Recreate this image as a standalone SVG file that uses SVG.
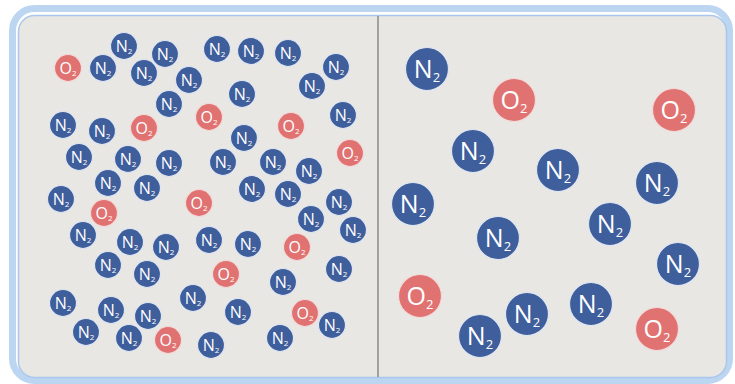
<svg xmlns="http://www.w3.org/2000/svg" width="735" height="384" viewBox="0 0 735 384">
<style>
.n circle{fill:#3f5e9c;stroke:#dfe6f2;stroke-width:1.2}
.o circle{fill:#e07272;stroke:#f3dada;stroke-width:1.2}
.s text{font-family:"Open Sans","Liberation Sans",sans-serif;fill:#fff;font-size:16px;text-anchor:middle}
.s tspan{font-size:8px}
.b text{font-family:"Open Sans","Liberation Sans",sans-serif;fill:#fff;font-size:25px;text-anchor:middle}
.b tspan{font-size:13px}
</style>
<rect x="0" y="0" width="735" height="384" fill="#ffffff"/>
<rect x="12.5" y="8.5" width="717" height="372" rx="22" fill="#ffffff" stroke="#bcd5f1" stroke-width="7"/>
<rect x="18.5" y="15.5" width="708" height="362" rx="16" fill="#e8e7e3" stroke="#a9c7ec" stroke-width="1.5"/>
<line x1="378" y1="16" x2="378" y2="377" stroke="#8a8a8a" stroke-width="1.5"/>
<g id="connectors"/>
<g id="left" class="s">
<g id="l1" class="n"><circle cx="124" cy="46" r="13.5"/><text x="124" y="52">N<tspan dy="2">2</tspan></text></g>
<g id="l2" class="n"><circle cx="165" cy="54" r="13.5"/><text x="165" y="60">N<tspan dy="2">2</tspan></text></g>
<g id="l3" class="n"><circle cx="217" cy="49" r="13.5"/><text x="217" y="55">N<tspan dy="2">2</tspan></text></g>
<g id="l4" class="n"><circle cx="251" cy="51" r="13.5"/><text x="251" y="57">N<tspan dy="2">2</tspan></text></g>
<g id="l5" class="n"><circle cx="288" cy="53" r="13.5"/><text x="288" y="59">N<tspan dy="2">2</tspan></text></g>
<g id="l6" class="n"><circle cx="336" cy="67" r="13.5"/><text x="336" y="73">N<tspan dy="2">2</tspan></text></g>
<g id="l7" class="o"><circle cx="68" cy="68" r="13.5"/><text x="68" y="74">O<tspan dy="2">2</tspan></text></g>
<g id="l8" class="n"><circle cx="103" cy="68" r="13.5"/><text x="103" y="74">N<tspan dy="2">2</tspan></text></g>
<g id="l9" class="n"><circle cx="144" cy="73" r="13.5"/><text x="144" y="79">N<tspan dy="2">2</tspan></text></g>
<g id="l10" class="n"><circle cx="189" cy="80" r="13.5"/><text x="189" y="86">N<tspan dy="2">2</tspan></text></g>
<g id="l11" class="n"><circle cx="312" cy="86" r="13.5"/><text x="312" y="92">N<tspan dy="2">2</tspan></text></g>
<g id="l12" class="n"><circle cx="169" cy="104" r="13.5"/><text x="169" y="110">N<tspan dy="2">2</tspan></text></g>
<g id="l13" class="n"><circle cx="242" cy="94" r="13.5"/><text x="242" y="100">N<tspan dy="2">2</tspan></text></g>
<g id="l14" class="o"><circle cx="209" cy="117" r="13.5"/><text x="209" y="123">O<tspan dy="2">2</tspan></text></g>
<g id="l15" class="o"><circle cx="291" cy="126" r="13.5"/><text x="291" y="132">O<tspan dy="2">2</tspan></text></g>
<g id="l16" class="n"><circle cx="343" cy="115" r="13.5"/><text x="343" y="121">N<tspan dy="2">2</tspan></text></g>
<g id="l17" class="n"><circle cx="63" cy="125" r="13.5"/><text x="63" y="131">N<tspan dy="2">2</tspan></text></g>
<g id="l18" class="n"><circle cx="102" cy="131" r="13.5"/><text x="102" y="137">N<tspan dy="2">2</tspan></text></g>
<g id="l19" class="o"><circle cx="144" cy="128" r="13.5"/><text x="144" y="134">O<tspan dy="2">2</tspan></text></g>
<g id="l20" class="n"><circle cx="244" cy="138" r="13.5"/><text x="244" y="144">N<tspan dy="2">2</tspan></text></g>
<g id="l21" class="o"><circle cx="350" cy="153" r="13.5"/><text x="350" y="159">O<tspan dy="2">2</tspan></text></g>
<g id="l22" class="n"><circle cx="79" cy="157" r="13.5"/><text x="79" y="163">N<tspan dy="2">2</tspan></text></g>
<g id="l23" class="n"><circle cx="128" cy="159" r="13.5"/><text x="128" y="165">N<tspan dy="2">2</tspan></text></g>
<g id="l24" class="n"><circle cx="169" cy="163" r="13.5"/><text x="169" y="169">N<tspan dy="2">2</tspan></text></g>
<g id="l25" class="n"><circle cx="223" cy="162" r="13.5"/><text x="223" y="168">N<tspan dy="2">2</tspan></text></g>
<g id="l26" class="n"><circle cx="273" cy="162" r="13.5"/><text x="273" y="168">N<tspan dy="2">2</tspan></text></g>
<g id="l27" class="n"><circle cx="309" cy="171" r="13.5"/><text x="309" y="177">N<tspan dy="2">2</tspan></text></g>
<g id="l28" class="n"><circle cx="108" cy="183" r="13.5"/><text x="108" y="189">N<tspan dy="2">2</tspan></text></g>
<g id="l29" class="n"><circle cx="147" cy="188" r="13.5"/><text x="147" y="194">N<tspan dy="2">2</tspan></text></g>
<g id="l30" class="n"><circle cx="252" cy="189" r="13.5"/><text x="252" y="195">N<tspan dy="2">2</tspan></text></g>
<g id="l31" class="n"><circle cx="288" cy="194" r="13.5"/><text x="288" y="200">N<tspan dy="2">2</tspan></text></g>
<g id="l32" class="n"><circle cx="61" cy="199" r="13.5"/><text x="61" y="205">N<tspan dy="2">2</tspan></text></g>
<g id="l33" class="o"><circle cx="199" cy="203" r="13.5"/><text x="199" y="209">O<tspan dy="2">2</tspan></text></g>
<g id="l34" class="n"><circle cx="339" cy="202" r="13.5"/><text x="339" y="208">N<tspan dy="2">2</tspan></text></g>
<g id="l35" class="o"><circle cx="104" cy="213" r="13.5"/><text x="104" y="219">O<tspan dy="2">2</tspan></text></g>
<g id="l36" class="n"><circle cx="311" cy="219" r="13.5"/><text x="311" y="225">N<tspan dy="2">2</tspan></text></g>
<g id="l37" class="n"><circle cx="353" cy="230" r="13.5"/><text x="353" y="236">N<tspan dy="2">2</tspan></text></g>
<g id="l38" class="n"><circle cx="83" cy="235" r="13.5"/><text x="83" y="241">N<tspan dy="2">2</tspan></text></g>
<g id="l39" class="n"><circle cx="130" cy="242" r="13.5"/><text x="130" y="248">N<tspan dy="2">2</tspan></text></g>
<g id="l40" class="n"><circle cx="166" cy="247" r="13.5"/><text x="166" y="253">N<tspan dy="2">2</tspan></text></g>
<g id="l41" class="n"><circle cx="209" cy="240" r="13.5"/><text x="209" y="246">N<tspan dy="2">2</tspan></text></g>
<g id="l42" class="n"><circle cx="248" cy="244" r="13.5"/><text x="248" y="250">N<tspan dy="2">2</tspan></text></g>
<g id="l43" class="o"><circle cx="297" cy="247" r="13.5"/><text x="297" y="253">O<tspan dy="2">2</tspan></text></g>
<g id="l44" class="n"><circle cx="108" cy="265" r="13.5"/><text x="108" y="271">N<tspan dy="2">2</tspan></text></g>
<g id="l45" class="n"><circle cx="147" cy="274" r="13.5"/><text x="147" y="280">N<tspan dy="2">2</tspan></text></g>
<g id="l46" class="o"><circle cx="226" cy="274" r="13.5"/><text x="226" y="280">O<tspan dy="2">2</tspan></text></g>
<g id="l47" class="n"><circle cx="283" cy="282" r="13.5"/><text x="283" y="288">N<tspan dy="2">2</tspan></text></g>
<g id="l48" class="n"><circle cx="339" cy="269" r="13.5"/><text x="339" y="275">N<tspan dy="2">2</tspan></text></g>
<g id="l49" class="n"><circle cx="63" cy="303" r="13.5"/><text x="63" y="309">N<tspan dy="2">2</tspan></text></g>
<g id="l50" class="n"><circle cx="111" cy="310" r="13.5"/><text x="111" y="316">N<tspan dy="2">2</tspan></text></g>
<g id="l51" class="n"><circle cx="148" cy="316" r="13.5"/><text x="148" y="322">N<tspan dy="2">2</tspan></text></g>
<g id="l52" class="n"><circle cx="193" cy="298" r="13.5"/><text x="193" y="304">N<tspan dy="2">2</tspan></text></g>
<g id="l53" class="n"><circle cx="238" cy="312" r="13.5"/><text x="238" y="318">N<tspan dy="2">2</tspan></text></g>
<g id="l54" class="o"><circle cx="305" cy="313" r="13.5"/><text x="305" y="319">O<tspan dy="2">2</tspan></text></g>
<g id="l55" class="n"><circle cx="332" cy="325" r="13.5"/><text x="332" y="331">N<tspan dy="2">2</tspan></text></g>
<g id="l56" class="n"><circle cx="86" cy="332" r="13.5"/><text x="86" y="338">N<tspan dy="2">2</tspan></text></g>
<g id="l57" class="n"><circle cx="129" cy="338" r="13.5"/><text x="129" y="344">N<tspan dy="2">2</tspan></text></g>
<g id="l58" class="o"><circle cx="168" cy="340" r="13.5"/><text x="168" y="346">O<tspan dy="2">2</tspan></text></g>
<g id="l59" class="n"><circle cx="211" cy="345" r="13.5"/><text x="211" y="351">N<tspan dy="2">2</tspan></text></g>
<g id="l60" class="n"><circle cx="280" cy="338" r="13.5"/><text x="280" y="344">N<tspan dy="2">2</tspan></text></g>
</g>
<g id="right" class="b">
<g id="r1" class="n"><circle cx="427" cy="69" r="21.5"/><text x="427" y="78">N<tspan dy="4">2</tspan></text></g>
<g id="r2" class="o"><circle cx="514" cy="100" r="21.5"/><text x="514" y="109">O<tspan dy="4">2</tspan></text></g>
<g id="r3" class="o"><circle cx="674" cy="110" r="21.5"/><text x="674" y="119">O<tspan dy="4">2</tspan></text></g>
<g id="r4" class="n"><circle cx="473" cy="151" r="21.5"/><text x="473" y="160">N<tspan dy="4">2</tspan></text></g>
<g id="r5" class="n"><circle cx="558" cy="170" r="21.5"/><text x="558" y="179">N<tspan dy="4">2</tspan></text></g>
<g id="r6" class="n"><circle cx="657" cy="183" r="21.5"/><text x="657" y="192">N<tspan dy="4">2</tspan></text></g>
<g id="r7" class="n"><circle cx="413" cy="204" r="21.5"/><text x="413" y="213">N<tspan dy="4">2</tspan></text></g>
<g id="r8" class="n"><circle cx="498" cy="238" r="21.5"/><text x="498" y="247">N<tspan dy="4">2</tspan></text></g>
<g id="r9" class="n"><circle cx="610" cy="224" r="21.5"/><text x="610" y="233">N<tspan dy="4">2</tspan></text></g>
<g id="r10" class="n"><circle cx="678" cy="264" r="21.5"/><text x="678" y="273">N<tspan dy="4">2</tspan></text></g>
<g id="r11" class="o"><circle cx="420" cy="296" r="21.5"/><text x="420" y="305">O<tspan dy="4">2</tspan></text></g>
<g id="r12" class="n"><circle cx="527" cy="314" r="21.5"/><text x="527" y="323">N<tspan dy="4">2</tspan></text></g>
<g id="r13" class="n"><circle cx="591" cy="304" r="21.5"/><text x="591" y="313">N<tspan dy="4">2</tspan></text></g>
<g id="r14" class="o"><circle cx="657" cy="329" r="21.5"/><text x="657" y="338">O<tspan dy="4">2</tspan></text></g>
<g id="r15" class="n"><circle cx="480" cy="336" r="21.5"/><text x="480" y="345">N<tspan dy="4">2</tspan></text></g>
</g>
</svg>
